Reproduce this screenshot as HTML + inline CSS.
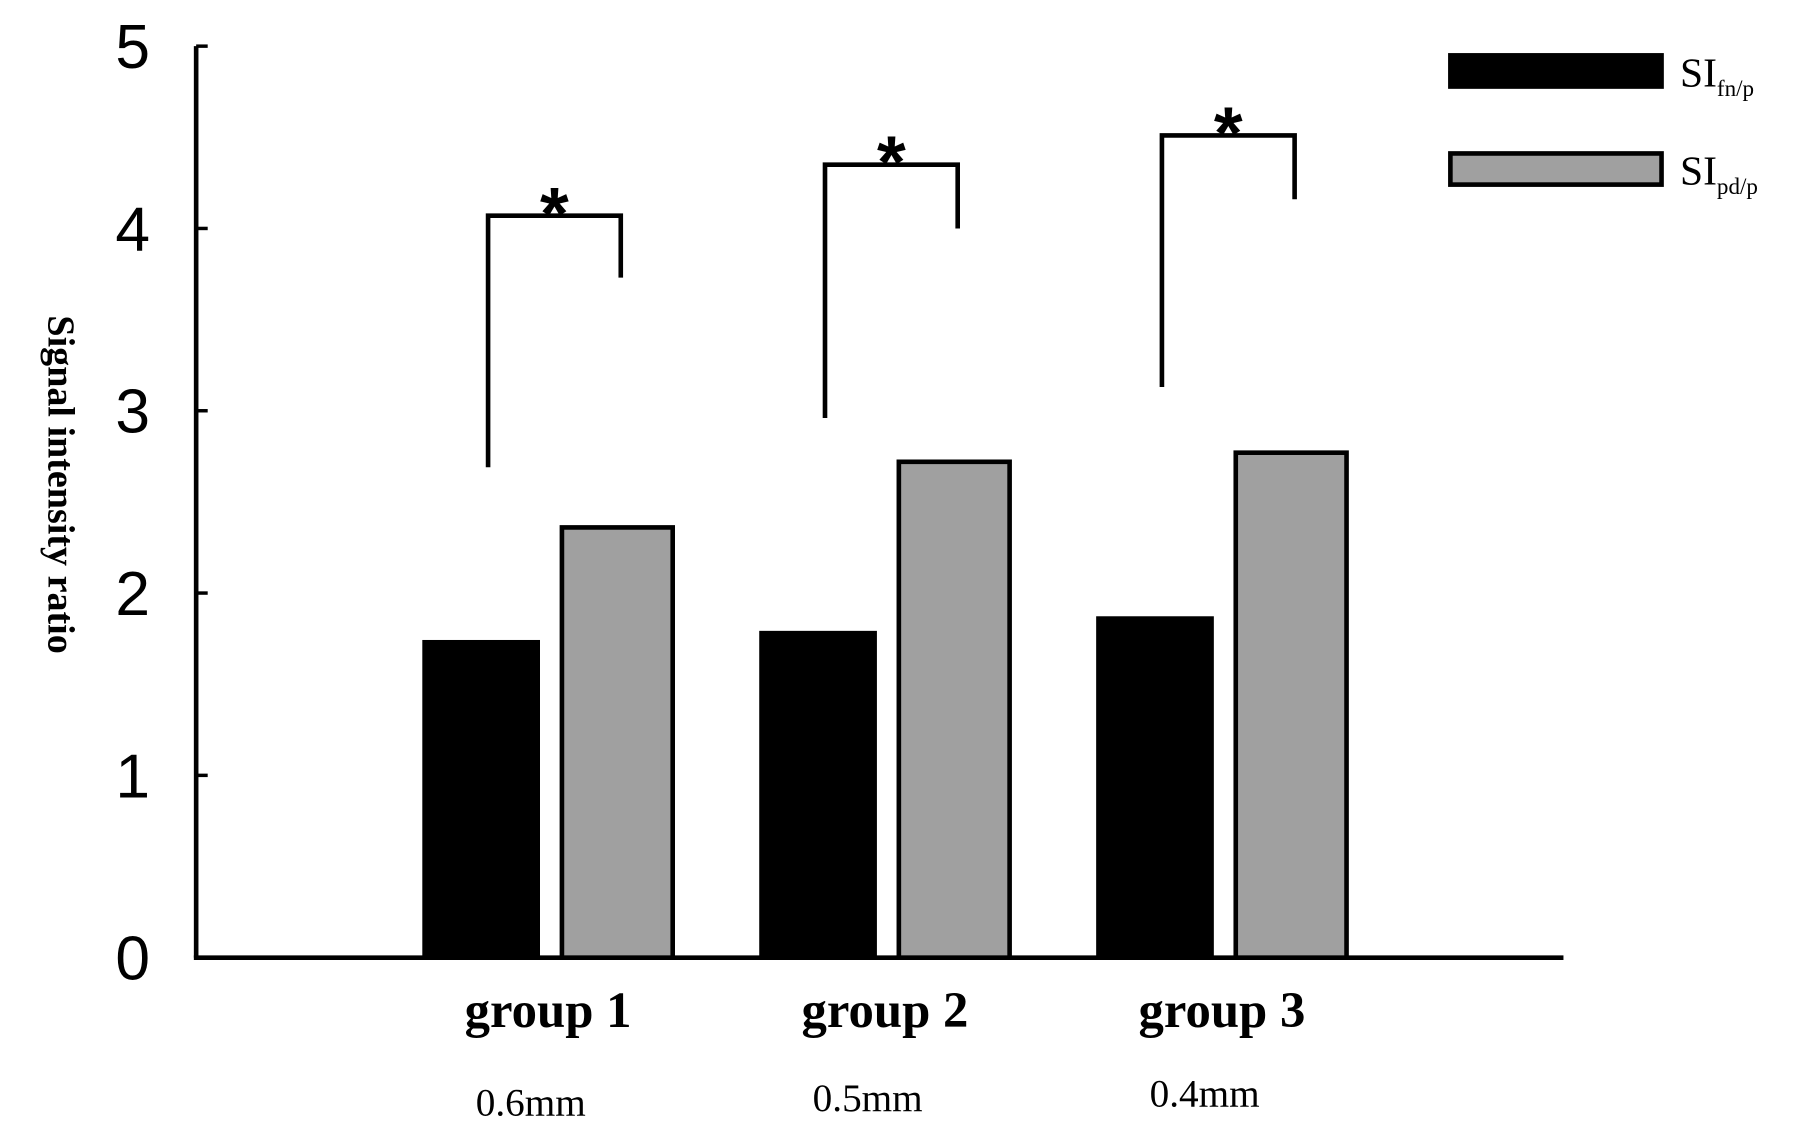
<!DOCTYPE html>
<html><head><meta charset="utf-8"><style>
html,body{margin:0;padding:0;background:#fff;}
svg{display:block;}
</style></head><body>
<svg id="chart" width="1800" height="1123" viewBox="0 0 1560 973.3" preserveAspectRatio="none" xmlns="http://www.w3.org/2000/svg"></svg>
<script>
const categories = ["group 1", "group 2", "group 3"];
const subLabels = ["0.6mm", "0.5mm", "0.4mm"];
const fnValues = [1.73, 1.78, 1.86];
const pdValues = [2.36, 2.72, 2.77];
const bracketLeftBottom = [2.69, 2.96, 3.13];
const bracketTop = [4.07, 4.35, 4.51];
const bracketRightBottom = [3.73, 4.0, 4.16];
const yTicks = [0, 1, 2, 3, 4, 5];

const NS = "http://www.w3.org/2000/svg";
const svg = document.getElementById("chart");
const x0 = 170, x1 = 1355, yBase = 830, yTop = 40;
const yScale = v => yBase - v * (yBase - yTop) / 5;
const groupStart = 368, groupStep = 292;
function mk(tag, attrs, text) {
  const el = document.createElementNS(NS, tag);
  for (const k in attrs) el.setAttribute(k, attrs[k]);
  if (text !== undefined) el.textContent = text;
  svg.appendChild(el);
  return el;
}
let el;
el = mk("line", {x1: x0, y1: yTop, x2: x0, y2: yBase, stroke: "#000", "stroke-width": 4});


el = mk("line", {x1: x0 - 2, y1: yBase, x2: x1, y2: yBase, stroke: "#000", "stroke-width": 4});


yTicks.forEach(t => {
  const y = yScale(t);
  el = mk("line", {x1: x0, y1: y, x2: x0 + 10, y2: y, stroke: "#000", "stroke-width": 3});
  
  
  el = mk("text", {x: 130, y: y + 19, "text-anchor": "end", "font-family": "Liberation Sans, sans-serif", "font-size": 54}, String(t));
  
  
});
el = mk("text", {x: 0, y: 0, transform: "translate(42,420) rotate(90)", "text-anchor": "middle", "font-family": "Liberation Serif, serif", "font-weight": "bold", "font-size": 33}, "Signal intensity ratio");



categories.forEach((c, i) => {
  const gx = groupStart + i * groupStep;
  const bw = 98;
  const fy = yScale(fnValues[i]);
  el = mk("rect", {x: gx, y: fy, width: bw, height: yBase - fy, fill: "#000", stroke: "#000", "stroke-width": 4});
  
  
  const px = gx + 119;
  const py = yScale(pdValues[i]);
  el = mk("rect", {x: px, y: py, width: bw - 2, height: yBase - py, fill: "#a0a0a0", stroke: "#000", "stroke-width": 4});
  
  
  const lx = gx + 55, rx = gx + 170;
  el = mk("polyline", {points: `${lx},${yScale(bracketLeftBottom[i])} ${lx},${yScale(bracketTop[i])} ${rx},${yScale(bracketTop[i])} ${rx},${yScale(bracketRightBottom[i])}`, fill: "none", stroke: "#000", "stroke-width": 4});
  
  
  el = mk("text", {x: (lx + rx) / 2, y: yScale(bracketTop[i]) + 20, "text-anchor": "middle", "font-family": "Liberation Sans, sans-serif", "font-weight": "bold", "font-size": 64}, "*");
  
  
  el = mk("text", {x: gx + 107, y: 890, "text-anchor": "middle", "font-family": "Liberation Serif, serif", "font-weight": "bold", "font-size": 44}, c);
  
  
  el = mk("text", {x: gx + 92, y: 967 - i * 4, "text-anchor": "middle", "font-family": "Liberation Serif, serif", "font-size": 34}, subLabels[i]);
  
  
});

const legend = [["#000", "fn/p", 48], ["#a0a0a0", "pd/p", 133]];
legend.forEach(([col, sub, y]) => {
  el = mk("rect", {x: 1257, y: y, width: 183, height: 27, fill: col, stroke: "#000", "stroke-width": 4});
  
  
  const t = mk("text", {x: 1456, y: y + 27, "font-family": "Liberation Serif, serif", "font-size": 36}, "");
  
  
  const s1 = document.createElementNS(NS, "tspan"); s1.textContent = "SI"; t.appendChild(s1);
  const s2 = document.createElementNS(NS, "tspan"); s2.setAttribute("font-size", 20); s2.setAttribute("dy", 8); s2.textContent = sub; t.appendChild(s2);
});
</script>
</body></html>
